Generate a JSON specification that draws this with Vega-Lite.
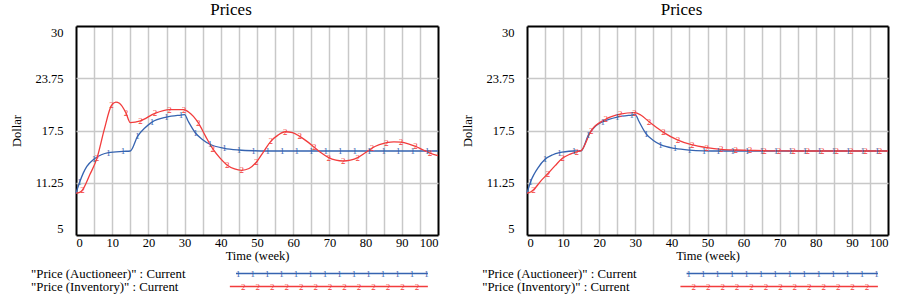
{
  "$schema": "https://vega.github.io/schema/vega-lite/v6.json",
  "padding": {"left": 10, "top": 1, "right": 0, "bottom": 0},
  "background": "white",
  "config": {
    "font": "Liberation Serif",
    "view": {"stroke": null},
    "text": {"font": "Liberation Serif"},
    "axis": {
      "domain": false, "ticks": false, "tickSize": 0,
      "labelFont": "Liberation Serif", "titleFont": "Liberation Serif",
      "labelFontSize": 12.5, "titleFontSize": 12.5, "titleFontWeight": "normal",
      "labelColor": "#000000", "titleColor": "#000000",
      "gridColor": "#c8c8c8", "gridWidth": 1.5, "gridOpacity": 1
    },
    "axisX": {"labelPadding": 1, "titlePadding": 1},
    "axisY": {"labelPadding": 13, "titlePadding": 11},
    "title": {"font": "Liberation Serif", "fontSize": 17, "fontWeight": "normal", "color": "#000000", "offset": 7, "dx": -26}
  },
  "datasets": {
    "left": [
      {"series":"Auctioneer","t":0,"v":10},{"series":"Auctioneer","t":1,"v":11.3},{"series":"Auctioneer","t":2,"v":12.4},{"series":"Auctioneer","t":3,"v":13.2},{"series":"Auctioneer","t":5,"v":14.1},{"series":"Auctioneer","t":7,"v":14.6},{"series":"Auctioneer","t":9,"v":14.85},{"series":"Auctioneer","t":13,"v":15.0},{"series":"Auctioneer","t":15,"v":15.05},{"series":"Auctioneer","t":17,"v":16.8},{"series":"Auctioneer","t":19,"v":17.8},{"series":"Auctioneer","t":21,"v":18.5},{"series":"Auctioneer","t":25,"v":19.1},{"series":"Auctioneer","t":29,"v":19.35},{"series":"Auctioneer","t":30,"v":19.4},{"series":"Auctioneer","t":31,"v":18.6},{"series":"Auctioneer","t":33,"v":17.2},{"series":"Auctioneer","t":35,"v":16.4},{"series":"Auctioneer","t":37,"v":15.85},{"series":"Auctioneer","t":41,"v":15.37},{"series":"Auctioneer","t":45,"v":15.17},{"series":"Auctioneer","t":49,"v":15.08},{"series":"Auctioneer","t":53,"v":15.05},{"series":"Auctioneer","t":57,"v":15.05},{"series":"Auctioneer","t":61,"v":15.05},{"series":"Auctioneer","t":65,"v":15.05},{"series":"Auctioneer","t":69,"v":15.05},{"series":"Auctioneer","t":73,"v":15.05},{"series":"Auctioneer","t":77,"v":15.05},{"series":"Auctioneer","t":81,"v":15.05},{"series":"Auctioneer","t":85,"v":15.05},{"series":"Auctioneer","t":89,"v":15.05},{"series":"Auctioneer","t":93,"v":15.05},{"series":"Auctioneer","t":97,"v":15.05},{"series":"Auctioneer","t":100,"v":15.05},
      {"series":"Inventory","t":0,"v":10},{"series":"Inventory","t":1,"v":10.1},{"series":"Inventory","t":1.8,"v":10.4},{"series":"Inventory","t":3.8,"v":12.2},{"series":"Inventory","t":5.8,"v":14.2},{"series":"Inventory","t":7.8,"v":17.6},{"series":"Inventory","t":9.8,"v":20.5},{"series":"Inventory","t":11,"v":20.9},{"series":"Inventory","t":12,"v":20.75},{"series":"Inventory","t":13.8,"v":19.6},{"series":"Inventory","t":15,"v":18.45},{"series":"Inventory","t":17.8,"v":18.65},{"series":"Inventory","t":21.8,"v":19.55},{"series":"Inventory","t":25.8,"v":20.0},{"series":"Inventory","t":29.8,"v":20.0},{"series":"Inventory","t":31,"v":19.75},{"series":"Inventory","t":33.8,"v":18.4},{"series":"Inventory","t":35.8,"v":16.8},{"series":"Inventory","t":37.8,"v":15.3},{"series":"Inventory","t":39.8,"v":14.2},{"series":"Inventory","t":41.8,"v":13.35},{"series":"Inventory","t":43.8,"v":12.9},{"series":"Inventory","t":45.8,"v":12.74},{"series":"Inventory","t":47.8,"v":12.95},{"series":"Inventory","t":49.8,"v":13.7},{"series":"Inventory","t":51.8,"v":14.95},{"series":"Inventory","t":53.8,"v":16.2},{"series":"Inventory","t":55.8,"v":16.95},{"series":"Inventory","t":57.8,"v":17.35},{"series":"Inventory","t":59.8,"v":17.25},{"series":"Inventory","t":61.8,"v":16.8},{"series":"Inventory","t":63.8,"v":16.2},{"series":"Inventory","t":65.8,"v":15.5},{"series":"Inventory","t":67.8,"v":14.8},{"series":"Inventory","t":69.8,"v":14.25},{"series":"Inventory","t":71.8,"v":13.95},{"series":"Inventory","t":73.8,"v":13.85},{"series":"Inventory","t":75.8,"v":13.95},{"series":"Inventory","t":77.8,"v":14.25},{"series":"Inventory","t":79.8,"v":14.8},{"series":"Inventory","t":81.8,"v":15.4},{"series":"Inventory","t":83.8,"v":15.8},{"series":"Inventory","t":85.8,"v":16.05},{"series":"Inventory","t":87.8,"v":16.15},{"series":"Inventory","t":89.8,"v":16.1},{"series":"Inventory","t":91.8,"v":15.9},{"series":"Inventory","t":93.8,"v":15.6},{"series":"Inventory","t":95.8,"v":15.2},{"series":"Inventory","t":97.8,"v":14.8},{"series":"Inventory","t":100,"v":14.5}
    ],
    "right": [
      {"series":"Auctioneer","t":0,"v":10},{"series":"Auctioneer","t":1,"v":11.38},{"series":"Auctioneer","t":2,"v":12.3},{"series":"Auctioneer","t":3,"v":13.0},{"series":"Auctioneer","t":5,"v":14.05},{"series":"Auctioneer","t":7,"v":14.57},{"series":"Auctioneer","t":9,"v":14.85},{"series":"Auctioneer","t":13,"v":15.05},{"series":"Auctioneer","t":15,"v":15.08},{"series":"Auctioneer","t":17,"v":16.95},{"series":"Auctioneer","t":19,"v":18.05},{"series":"Auctioneer","t":21,"v":18.55},{"series":"Auctioneer","t":25,"v":19.1},{"series":"Auctioneer","t":29,"v":19.35},{"series":"Auctioneer","t":30,"v":19.4},{"series":"Auctioneer","t":31,"v":18.6},{"series":"Auctioneer","t":33,"v":17.1},{"series":"Auctioneer","t":35,"v":16.3},{"series":"Auctioneer","t":37,"v":15.8},{"series":"Auctioneer","t":41,"v":15.35},{"series":"Auctioneer","t":45,"v":15.15},{"series":"Auctioneer","t":49,"v":15.07},{"series":"Auctioneer","t":53,"v":15.05},{"series":"Auctioneer","t":57,"v":15.05},{"series":"Auctioneer","t":61,"v":15.05},{"series":"Auctioneer","t":65,"v":15.05},{"series":"Auctioneer","t":69,"v":15.05},{"series":"Auctioneer","t":73,"v":15.05},{"series":"Auctioneer","t":77,"v":15.05},{"series":"Auctioneer","t":81,"v":15.05},{"series":"Auctioneer","t":85,"v":15.05},{"series":"Auctioneer","t":89,"v":15.05},{"series":"Auctioneer","t":93,"v":15.05},{"series":"Auctioneer","t":97,"v":15.05},{"series":"Auctioneer","t":100,"v":15.05},
      {"series":"Inventory","t":0,"v":10},{"series":"Inventory","t":1,"v":10.15},{"series":"Inventory","t":1.8,"v":10.4},{"series":"Inventory","t":3.8,"v":11.45},{"series":"Inventory","t":5.8,"v":12.35},{"series":"Inventory","t":7.8,"v":13.3},{"series":"Inventory","t":9.8,"v":14.17},{"series":"Inventory","t":11.8,"v":14.65},{"series":"Inventory","t":13.8,"v":14.95},{"series":"Inventory","t":15,"v":15.1},{"series":"Inventory","t":17.8,"v":17.5},{"series":"Inventory","t":21.8,"v":18.85},{"series":"Inventory","t":25.8,"v":19.45},{"series":"Inventory","t":29.8,"v":19.63},{"series":"Inventory","t":31.5,"v":19.35},{"series":"Inventory","t":33.8,"v":18.55},{"series":"Inventory","t":35.8,"v":17.9},{"series":"Inventory","t":37.8,"v":17.28},{"series":"Inventory","t":41.8,"v":16.36},{"series":"Inventory","t":45.8,"v":15.77},{"series":"Inventory","t":49.8,"v":15.45},{"series":"Inventory","t":53.8,"v":15.25},{"series":"Inventory","t":57.8,"v":15.17},{"series":"Inventory","t":61.8,"v":15.12},{"series":"Inventory","t":65.8,"v":15.08},{"series":"Inventory","t":69.8,"v":15.06},{"series":"Inventory","t":73.8,"v":15.05},{"series":"Inventory","t":77.8,"v":15.05},{"series":"Inventory","t":81.8,"v":15.05},{"series":"Inventory","t":85.8,"v":15.05},{"series":"Inventory","t":89.8,"v":15.05},{"series":"Inventory","t":93.8,"v":15.05},{"series":"Inventory","t":97.8,"v":15.05},{"series":"Inventory","t":100,"v":15.05}
    ],
    "legendText": [
      {"row": 1, "x": -12.4, "label": "\"Price (Auctioneer)\" : Current"},
      {"row": 2, "x": -12.4, "label": "\"Price (Inventory)\" : Current"}
    ],
    "legendLines": [
      {"series":"Auctioneer","row":1,"x":44.2},{"series":"Auctioneer","row":1,"x":97.2},
      {"series":"Inventory","row":2,"x":42.5},{"series":"Inventory","row":2,"x":97.2}
    ],
    "legendMarks": [
      {"series":"Auctioneer","row":1,"x":44.8},{"series":"Auctioneer","row":1,"x":48.8},{"series":"Auctioneer","row":1,"x":52.8},{"series":"Auctioneer","row":1,"x":56.8},{"series":"Auctioneer","row":1,"x":60.8},{"series":"Auctioneer","row":1,"x":64.8},{"series":"Auctioneer","row":1,"x":68.8},{"series":"Auctioneer","row":1,"x":72.8},{"series":"Auctioneer","row":1,"x":76.8},{"series":"Auctioneer","row":1,"x":80.8},{"series":"Auctioneer","row":1,"x":84.8},{"series":"Auctioneer","row":1,"x":88.8},{"series":"Auctioneer","row":1,"x":92.8},{"series":"Auctioneer","row":1,"x":96.8},
      {"series":"Inventory","row":2,"x":46.2},{"series":"Inventory","row":2,"x":50.2},{"series":"Inventory","row":2,"x":54.2},{"series":"Inventory","row":2,"x":58.2},{"series":"Inventory","row":2,"x":62.2},{"series":"Inventory","row":2,"x":66.2},{"series":"Inventory","row":2,"x":70.2},{"series":"Inventory","row":2,"x":74.2},{"series":"Inventory","row":2,"x":78.2},{"series":"Inventory","row":2,"x":82.2},{"series":"Inventory","row":2,"x":86.2},{"series":"Inventory","row":2,"x":90.2},{"series":"Inventory","row":2,"x":94.2}
    ]
  },
  "spacing": 20,
  "hconcat": [
    {
      "spacing": 5,
      "vconcat": [
        {
          "title": "Prices",
          "width": 362, "height": 209,
          "data": {"name": "left"},
          "encoding": {
            "x": {"field": "t", "type": "quantitative", "scale": {"domain": [0, 100], "nice": false},
              "axis": {"values": [0,5,10,15,20,25,30,35,40,45,50,55,60,65,70,75,80,85,90,95,100],
                "labelExpr": "datum.value % 10 == 0 ? datum.label : ''", "title": "Time (week)",
                "gridColor": {"condition": {"test": "datum.value == 0 || datum.value == 100", "value": "#000000"}, "value": "#c8c8c8"},
                "gridWidth": {"condition": {"test": "datum.value == 0 || datum.value == 100", "value": 2}, "value": 1.5}}},
            "y": {"field": "v", "type": "quantitative", "scale": {"domain": [5, 30], "nice": false, "zero": false},
              "axis": {"values": [5, 11.25, 17.5, 23.75, 30], "labelExpr": "'' + datum.value", "title": "Dollar",
                "labelFlush": true, "labelFlushOffset": 0,
                "gridColor": {"condition": {"test": "datum.value == 5 || datum.value == 30", "value": "#000000"}, "value": "#c8c8c8"},
                "gridWidth": {"condition": {"test": "datum.value == 5 || datum.value == 30", "value": 2}, "value": 1.5}}},
            "color": {"field": "series", "type": "nominal", "scale": {"domain": ["Auctioneer", "Inventory"], "range": ["#3563b0", "#f23c3c"]}, "legend": null}
          },
          "layer": [
            {"mark": {"type": "line", "interpolate": "monotone", "strokeWidth": 1.3}},
            {"transform": [{"filter": "(datum.series == 'Auctioneer' && abs((datum.t - 1) / 4 - round((datum.t - 1) / 4)) < 0.01) || (datum.series == 'Inventory' && abs((datum.t - 1.8) / 4 - round((datum.t - 1.8) / 4)) < 0.01)"}],
             "mark": {"type": "text", "font": "Liberation Serif", "fontSize": 9, "baseline": "middle", "align": "center"},
             "encoding": {"text": {"condition": {"test": "datum.series == 'Auctioneer'", "value": "1"}, "value": "2"}}}
          ]
        },
        {
          "width": 362, "height": 26,
          "layer": [
            {"data": {"name": "legendText"}, "mark": {"type": "text", "font": "Liberation Serif", "align": "left", "baseline": "middle", "fontSize": 12.8, "color": "#000000"},
             "encoding": {"x": {"field": "x", "type": "quantitative", "scale": {"domain": [0, 100], "nice": false}, "axis": null},
               "y": {"field": "row", "type": "ordinal", "scale": {"type": "point", "padding": 0.5, "domain": [1, 2]}, "axis": null},
               "text": {"field": "label"}}},
            {"data": {"name": "legendLines"}, "mark": {"type": "line", "strokeWidth": 1.3},
             "encoding": {"x": {"field": "x", "type": "quantitative"}, "y": {"field": "row", "type": "ordinal"},
               "color": {"field": "series", "type": "nominal", "scale": {"domain": ["Auctioneer", "Inventory"], "range": ["#3563b0", "#f23c3c"]}, "legend": null}}},
            {"data": {"name": "legendMarks"}, "mark": {"type": "text", "font": "Liberation Serif", "fontSize": 9, "baseline": "middle", "align": "center"},
             "encoding": {"x": {"field": "x", "type": "quantitative"}, "y": {"field": "row", "type": "ordinal"},
               "color": {"field": "series", "type": "nominal", "legend": null},
               "text": {"condition": {"test": "datum.series == 'Auctioneer'", "value": "1"}, "value": "2"}}}
          ]
        }
      ]
    },
    {
      "spacing": 5,
      "vconcat": [
        {
          "title": "Prices",
          "width": 361, "height": 209,
          "data": {"name": "right"},
          "encoding": {
            "x": {"field": "t", "type": "quantitative", "scale": {"domain": [0, 100], "nice": false},
              "axis": {"values": [0,5,10,15,20,25,30,35,40,45,50,55,60,65,70,75,80,85,90,95,100],
                "labelExpr": "datum.value % 10 == 0 ? datum.label : ''", "title": "Time (week)",
                "gridColor": {"condition": {"test": "datum.value == 0 || datum.value == 100", "value": "#000000"}, "value": "#c8c8c8"},
                "gridWidth": {"condition": {"test": "datum.value == 0 || datum.value == 100", "value": 2}, "value": 1.5}}},
            "y": {"field": "v", "type": "quantitative", "scale": {"domain": [5, 30], "nice": false, "zero": false},
              "axis": {"values": [5, 11.25, 17.5, 23.75, 30], "labelExpr": "'' + datum.value", "title": "Dollar",
                "labelFlush": true, "labelFlushOffset": 0,
                "gridColor": {"condition": {"test": "datum.value == 5 || datum.value == 30", "value": "#000000"}, "value": "#c8c8c8"},
                "gridWidth": {"condition": {"test": "datum.value == 5 || datum.value == 30", "value": 2}, "value": 1.5}}},
            "color": {"field": "series", "type": "nominal", "scale": {"domain": ["Auctioneer", "Inventory"], "range": ["#3563b0", "#f23c3c"]}, "legend": null}
          },
          "layer": [
            {"mark": {"type": "line", "interpolate": "monotone", "strokeWidth": 1.3}},
            {"transform": [{"filter": "(datum.series == 'Auctioneer' && abs((datum.t - 1) / 4 - round((datum.t - 1) / 4)) < 0.01) || (datum.series == 'Inventory' && abs((datum.t - 1.8) / 4 - round((datum.t - 1.8) / 4)) < 0.01)"}],
             "mark": {"type": "text", "font": "Liberation Serif", "fontSize": 9, "baseline": "middle", "align": "center"},
             "encoding": {"text": {"condition": {"test": "datum.series == 'Auctioneer'", "value": "1"}, "value": "2"}}}
          ]
        },
        {
          "width": 361, "height": 26,
          "layer": [
            {"data": {"name": "legendText"}, "mark": {"type": "text", "font": "Liberation Serif", "align": "left", "baseline": "middle", "fontSize": 12.8, "color": "#000000"},
             "encoding": {"x": {"field": "x", "type": "quantitative", "scale": {"domain": [0, 100], "nice": false}, "axis": null},
               "y": {"field": "row", "type": "ordinal", "scale": {"type": "point", "padding": 0.5, "domain": [1, 2]}, "axis": null},
               "text": {"field": "label"}}},
            {"data": {"name": "legendLines"}, "mark": {"type": "line", "strokeWidth": 1.3},
             "encoding": {"x": {"field": "x", "type": "quantitative"}, "y": {"field": "row", "type": "ordinal"},
               "color": {"field": "series", "type": "nominal", "scale": {"domain": ["Auctioneer", "Inventory"], "range": ["#3563b0", "#f23c3c"]}, "legend": null}}},
            {"data": {"name": "legendMarks"}, "mark": {"type": "text", "font": "Liberation Serif", "fontSize": 9, "baseline": "middle", "align": "center"},
             "encoding": {"x": {"field": "x", "type": "quantitative"}, "y": {"field": "row", "type": "ordinal"},
               "color": {"field": "series", "type": "nominal", "legend": null},
               "text": {"condition": {"test": "datum.series == 'Auctioneer'", "value": "1"}, "value": "2"}}}
          ]
        }
      ]
    }
  ]
}
